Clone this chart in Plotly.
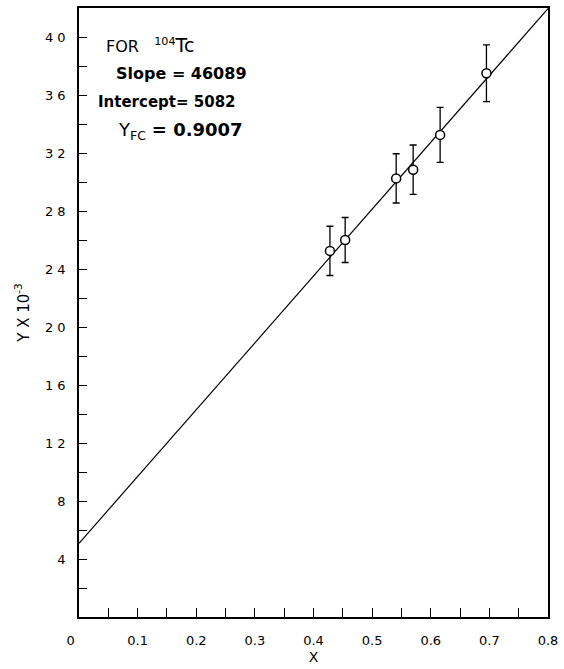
import plotly.graph_objects as go

# Data (Y in units of 10^3)
x_pts = [0.428, 0.454, 0.541, 0.570, 0.616, 0.695]
y_pts = [25.25, 26.0, 30.25, 30.85, 33.25, 37.5]
y_err = [1.7, 1.55, 1.7, 1.7, 1.9, 1.95]

slope = 46089
intercept = 5082
yfc = "0.9007"

x_tickvals = [0.0, 0.1, 0.2, 0.3, 0.4, 0.5, 0.6, 0.7, 0.8]
x_ticktext = ["0\u00a0\u00a0\u00a0\u00a0", "0.1", "0.2", "0.3", "0.4", "0.5", "0.6", "0.7", "0.8"]
x_minorvals = [0.05, 0.15, 0.25, 0.35, 0.45, 0.55, 0.65, 0.75]
y_tickvals = [4, 8, 12, 16, 20, 24, 28, 32, 36, 40]
y_ticktext = ["4", "8", "1 2", "1 6", "2 0", "2 4", "2 8", "3 2", "3 6", "4 0"]
y_minorvals = [2, 6, 10, 14, 18, 22, 26, 30, 34, 38]

fit_x = [0.0, 0.8]
fit_y = [(intercept + slope * xv) / 1000 for xv in fit_x]

FONT = "DejaVu Sans"

fig = go.Figure()
fig.add_trace(go.Scatter(x=fit_x, y=fit_y, mode="lines",
                         line=dict(color="black", width=1.2), showlegend=False))
fig.add_trace(go.Scatter(x=x_pts, y=y_pts, mode="markers",
                         marker=dict(symbol="circle", size=9, color="white",
                                     line=dict(color="black", width=1.5)),
                         error_y=dict(type="data", array=y_err, visible=True,
                                      color="black", thickness=1.3, width=3.5),
                         showlegend=False))

fig.update_layout(
    width=564, height=669,
    margin=dict(l=79, r=13, t=6, b=48),
    plot_bgcolor="white", paper_bgcolor="white",
    font=dict(family=FONT, color="black", size=12),
    xaxis=dict(range=[0, 0.8], tickmode="array", tickvals=x_tickvals, ticktext=x_ticktext,
               ticks="inside", ticklen=9, tickwidth=1.3, tickcolor="black",
               minor=dict(tickvals=x_minorvals, ticks="inside", ticklen=9, tickwidth=1.3,
                          tickcolor="black"),
               showline=True, linecolor="black", linewidth=1.5, mirror=True,
               showgrid=False, zeroline=False,
               tickfont=dict(family=FONT, size=13),
               ticklabelstandoff=11,
               title=dict(text="X", font=dict(family=FONT, size=14), standoff=5)),
    yaxis=dict(range=[0, 42], tickmode="array", tickvals=y_tickvals, ticktext=y_ticktext,
               ticks="inside", ticklen=8, tickwidth=1.3, tickcolor="black",
               minor=dict(tickvals=y_minorvals, ticks="inside", ticklen=8, tickwidth=1.3,
                          tickcolor="black"),
               showline=True, linecolor="black", linewidth=1.5, mirror=True,
               showgrid=False, zeroline=False,
               tickfont=dict(family=FONT, size=13),
               ticklabelstandoff=9,
               title=dict(text="Y X 10<sup>-3</sup>", font=dict(family=FONT, size=15), standoff=12)),
)

fig.add_annotation(x=0.043, y=39.45, xref="x", yref="y", xanchor="left", yanchor="middle",
                   text="FOR\u00a0\u00a0\u00a0<sup>104</sup><span style='font-size:19px'>Tc</span>",
                   showarrow=False, font=dict(family=FONT, size=16, color="black"))
fig.add_annotation(x=0.06, y=37.45, xref="x", yref="y", xanchor="left", yanchor="middle",
                   text="<b>Slope = %d</b>" % slope, showarrow=False,
                   font=dict(family=FONT, size=16, color="black"))
fig.add_annotation(x=0.029, y=35.55, xref="x", yref="y", xanchor="left", yanchor="middle",
                   text="<b>Intercept= %d</b>" % intercept, showarrow=False,
                   font=dict(family=FONT, size=15, color="black"))
fig.add_annotation(x=0.063, y=33.55, xref="x", yref="y", xanchor="left", yanchor="middle",
                   text="Y<sub>FC</sub>\u00a0<b>= %s</b>" % yfc, showarrow=False,
                   font=dict(family=FONT, size=18, color="black"))

fig.write_html("out.html", config={"displayModeBar": False},
               post_script="document.body.style.margin='0';document.body.style.overflow='hidden';")
